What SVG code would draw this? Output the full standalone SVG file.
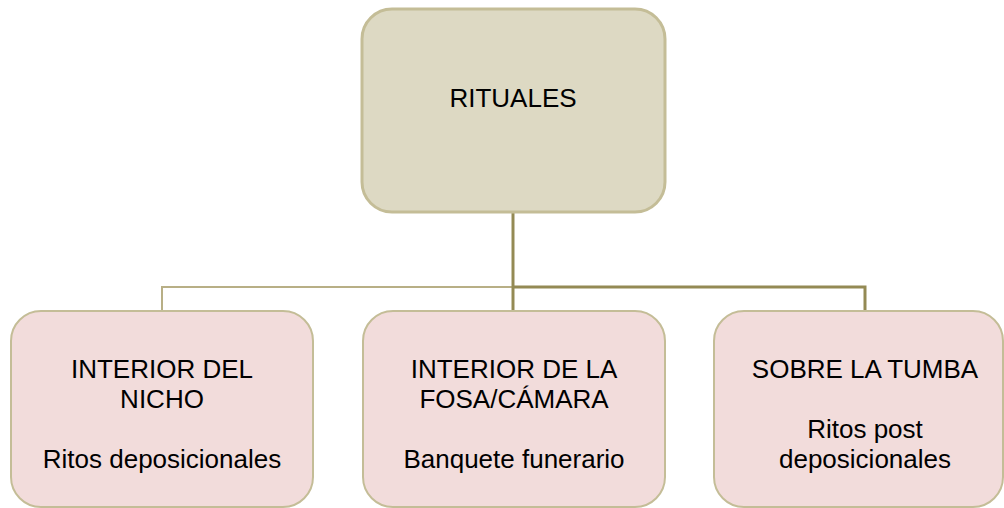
<svg xmlns="http://www.w3.org/2000/svg" width="1004" height="508" viewBox="0 0 1004 508">
<style>
.top{fill:#DDD9C3;stroke:#C4BD97;stroke-width:3}
.child{fill:#F2DCDB;stroke:#C4BD97;stroke-width:2}
.t{font-family:"Liberation Sans",Arial,sans-serif;font-size:26px;fill:#000;text-anchor:middle}
.dark{stroke:#948A54;stroke-width:3;fill:none}
.light{stroke:#B8AF86;stroke-width:2;fill:none}
</style>
<rect width="1004" height="508" fill="#fff"/>
<g id="connectors">
<polyline class="light" points="162,311 162,287 513,287"/>
<line class="dark" x1="513" y1="212" x2="513" y2="311"/>
<polyline class="dark" points="513,287 865,287 865,311"/>
</g>
<g id="rituales">
<rect class="top" x="362" y="9" width="303" height="203" rx="30"/>
<text class="t" x="513" y="107">RITUALES</text>
</g>
<g id="nicho">
<rect class="child" x="11" y="311" width="302" height="196" rx="30"/>
<text class="t" x="162" y="378">INTERIOR DEL</text>
<text class="t" x="162" y="408">NICHO</text>
<text class="t" x="162" y="468">Ritos deposicionales</text>
</g>
<g id="fosa">
<rect class="child" x="363" y="311" width="302" height="196" rx="30"/>
<text class="t" x="514" y="378">INTERIOR DE LA</text>
<text class="t" x="514" y="408">FOSA/CÁMARA</text>
<text class="t" x="514" y="468">Banquete funerario</text>
</g>
<g id="tumba">
<rect class="child" x="714" y="311" width="289" height="196" rx="30"/>
<text class="t" x="865" y="378">SOBRE LA TUMBA</text>
<text class="t" x="865" y="438">Ritos post</text>
<text class="t" x="865" y="468">deposicionales</text>
</g>
</svg>
